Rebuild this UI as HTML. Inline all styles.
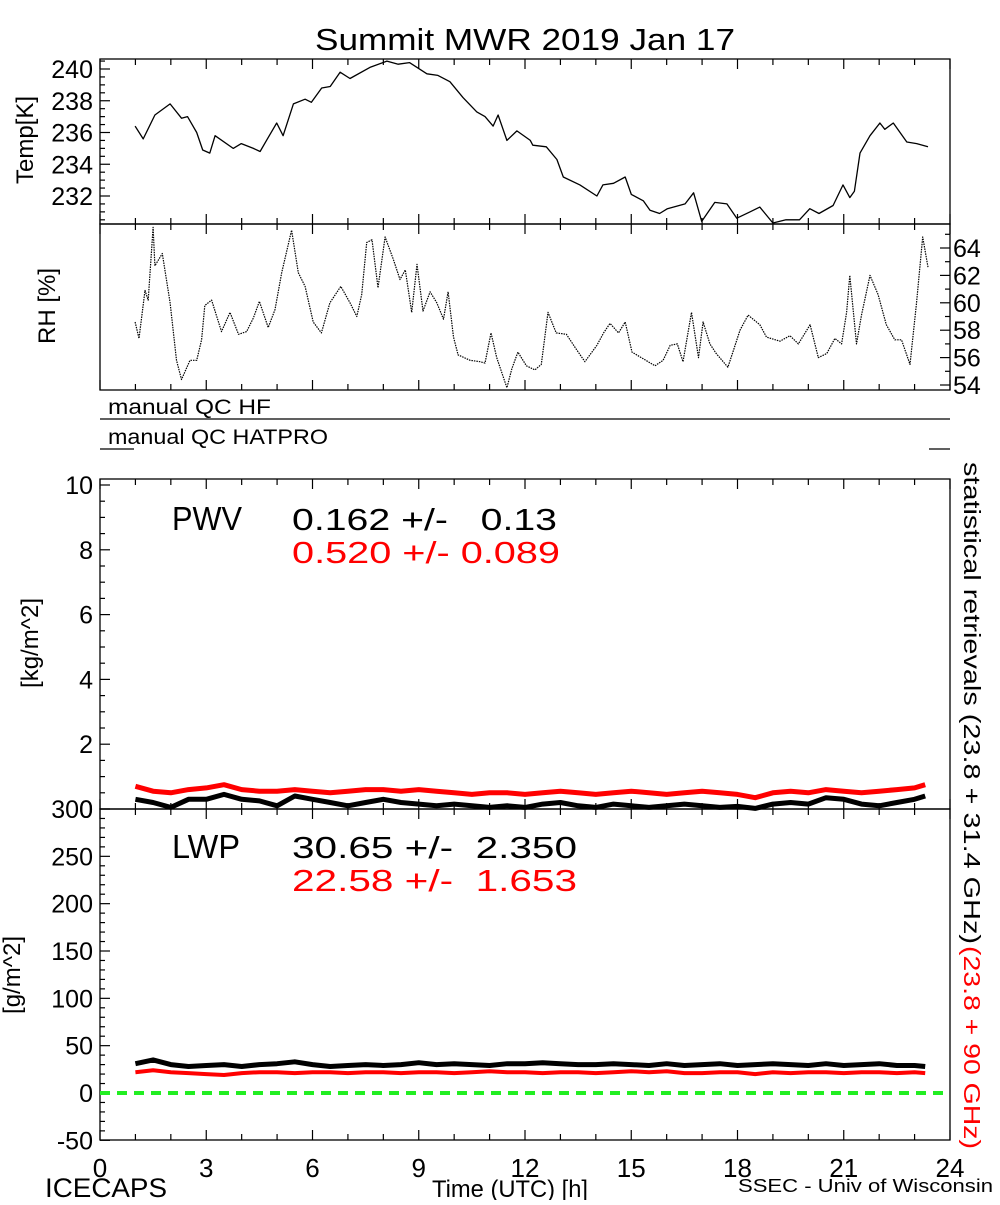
<!DOCTYPE html>
<html><head><meta charset="utf-8"><style>
html,body{margin:0;padding:0;background:#fff}
svg text{font-family:"Liberation Sans",sans-serif}
</style></head><body>
<svg id="chart" width="1000" height="1200" viewBox="0 0 1000 1200" xmlns="http://www.w3.org/2000/svg">
<rect width="1000" height="1200" fill="#fff"/>
<text x="315" y="50" font-size="31" textLength="420" lengthAdjust="spacingAndGlyphs">Summit MWR 2019 Jan 17</text>
<text transform="translate(33,140) rotate(-90)" font-size="24" text-anchor="middle">Temp[K]</text>
<text transform="translate(55,306) rotate(-90)" font-size="24" text-anchor="middle">RH [%]</text>
<text transform="translate(38,643) rotate(-90)" font-size="24" text-anchor="middle">[kg/m^2]</text>
<text transform="translate(20,975) rotate(-90)" font-size="24" text-anchor="middle">[g/m^2]</text>
<text x="108" y="414" font-size="21" textLength="163" lengthAdjust="spacingAndGlyphs">manual QC HF</text>
<line x1="100" y1="419" x2="950" y2="419" stroke="#000" stroke-width="1.2"/>
<text x="108" y="444" font-size="21" textLength="220" lengthAdjust="spacingAndGlyphs">manual QC HATPRO</text>
<line x1="100" y1="449" x2="134" y2="449" stroke="#000" stroke-width="1.2"/>
<line x1="929" y1="449" x2="950" y2="449" stroke="#000" stroke-width="1.2"/>
<text x="172" y="530" font-size="33" textLength="70" lengthAdjust="spacingAndGlyphs">PWV</text>
<text x="292" y="530" font-size="31" textLength="265" lengthAdjust="spacingAndGlyphs" xml:space="preserve">0.162 +/-   0.13</text>
<text x="292" y="563" font-size="31" fill="#ff0000" textLength="268" lengthAdjust="spacingAndGlyphs" xml:space="preserve">0.520 +/- 0.089</text>
<text x="172" y="858" font-size="33" textLength="68" lengthAdjust="spacingAndGlyphs">LWP</text>
<text x="292" y="858" font-size="31" textLength="285" lengthAdjust="spacingAndGlyphs" xml:space="preserve">30.65 +/-  2.350</text>
<text x="292" y="891" font-size="31" fill="#ff0000" textLength="285" lengthAdjust="spacingAndGlyphs" xml:space="preserve">22.58 +/-  1.653</text>
<text transform="translate(964,462) rotate(90)" font-size="23" textLength="482" lengthAdjust="spacingAndGlyphs">statistical retrievals (23.8 + 31.4 GHz)</text>
<text transform="translate(964,946) rotate(90)" font-size="23" fill="#ff0000" textLength="203" lengthAdjust="spacingAndGlyphs">(23.8 + 90 GHz)</text>
<text x="45" y="1197" font-size="27" textLength="122" lengthAdjust="spacingAndGlyphs">ICECAPS</text>
<text x="432" y="1197" font-size="24" textLength="156" lengthAdjust="spacingAndGlyphs">Time (UTC) [h]</text>
<text x="738" y="1192" font-size="18" textLength="255" lengthAdjust="spacingAndGlyphs">SSEC - Univ of Wisconsin</text>
<g id="marks"></g>
</svg>
<script>
const tempHours=[0.99,1.22,1.55,1.98,2.3,2.47,2.73,2.9,3.1,3.25,3.76,3.99,4.33,4.52,4.7,4.99,5.17,5.46,5.79,5.97,6.26,6.5,6.78,7.06,7.62,8.1,8.42,8.74,9.23,9.54,9.88,10.25,10.64,10.87,11.1,11.24,11.49,11.77,12.15,12.22,12.6,12.9,13.08,13.55,14.03,14.2,14.5,14.83,15.0,15.34,15.53,15.8,16.02,16.52,16.76,16.99,17.36,17.7,17.98,18.35,18.63,19.0,19.37,19.75,20.04,20.3,20.7,20.98,21.17,21.3,21.46,21.74,22.02,22.16,22.4,22.78,23.06,23.38];
const tempValues=[236.4,235.6,237.1,237.8,236.9,237.0,236.0,234.9,234.7,235.8,235.0,235.3,235.0,234.8,235.5,236.6,235.8,237.8,238.1,237.9,238.8,238.9,239.8,239.4,240.1,240.5,240.3,240.4,239.7,239.6,239.2,238.2,237.3,237.0,236.4,237.1,235.5,236.1,235.5,235.2,235.1,234.3,233.2,232.7,232.0,232.7,232.8,233.2,232.1,231.7,231.1,230.9,231.2,231.5,232.2,230.4,231.6,231.5,230.6,231.0,231.3,230.3,230.5,230.5,231.2,230.9,231.4,232.7,231.9,232.3,234.7,235.8,236.6,236.2,236.6,235.4,235.3,235.1];
const rhHours=[0.99,1.1,1.27,1.36,1.5,1.55,1.76,1.98,2.16,2.3,2.54,2.73,2.87,2.96,3.15,3.43,3.67,3.91,4.14,4.33,4.5,4.75,4.94,5.13,5.41,5.6,5.79,6.02,6.25,6.49,6.8,7.06,7.25,7.39,7.53,7.68,7.85,8.05,8.28,8.47,8.62,8.8,8.95,9.12,9.32,9.51,9.7,9.83,9.98,10.11,10.45,10.73,10.87,11.04,11.2,11.49,11.63,11.8,12.04,12.28,12.46,12.65,12.88,13.17,13.45,13.69,14.03,14.22,14.4,14.64,14.83,15.02,15.35,15.67,15.9,16.1,16.3,16.46,16.7,16.9,17.03,17.22,17.4,17.73,17.88,18.07,18.3,18.63,18.82,19.2,19.48,19.72,20.05,20.28,20.52,20.75,20.94,21.08,21.17,21.36,21.5,21.74,21.97,22.2,22.44,22.63,22.87,23.05,23.23,23.38];
const rhValues=[58.6,57.4,60.9,60.2,65.5,62.7,63.6,60.0,55.8,54.4,55.8,55.8,57.3,59.8,60.2,57.9,59.3,57.7,57.9,58.9,60.1,58.2,59.5,62.2,65.3,62.2,61.2,58.6,57.8,60.0,61.2,60.0,59.0,60.6,64.4,64.6,61.1,64.8,63.2,61.7,62.4,59.3,62.8,59.4,60.8,60.0,58.8,60.8,57.5,56.2,55.8,55.7,55.6,57.8,56.0,53.8,55.2,56.4,55.4,55.1,55.5,59.3,57.8,57.7,56.6,55.7,56.9,57.8,58.5,57.8,58.6,56.4,55.9,55.4,55.8,56.9,57.0,55.7,59.3,56.0,58.6,57.0,56.3,55.3,56.5,58.0,59.1,58.4,57.5,57.2,57.6,57.0,58.4,56.0,56.3,57.4,57.0,59.3,62.0,57.0,59.1,62.0,60.6,58.4,57.3,57.3,55.5,59.9,64.8,62.6];
const retHours=[1,1.5,2,2.5,3,3.5,4,4.5,5,5.5,6,6.5,7,7.5,8,8.5,9,9.5,10,10.5,11,11.5,12,12.5,13,13.5,14,14.5,15,15.5,16,16.5,17,17.5,18,18.5,19,19.5,20,20.5,21,21.5,22,22.5,23,23.3];
const pwvBlack=[0.3,0.2,0.05,0.3,0.3,0.45,0.3,0.25,0.1,0.4,0.3,0.2,0.1,0.2,0.3,0.2,0.15,0.1,0.15,0.1,0.05,0.1,0.05,0.15,0.2,0.1,0.05,0.15,0.1,0.05,0.1,0.15,0.1,0.05,0.08,0.02,0.15,0.2,0.15,0.35,0.3,0.15,0.1,0.2,0.3,0.4];
const pwvRed=[0.7,0.55,0.5,0.6,0.65,0.75,0.6,0.55,0.55,0.6,0.55,0.5,0.55,0.6,0.6,0.55,0.6,0.55,0.5,0.45,0.5,0.5,0.45,0.5,0.55,0.5,0.45,0.5,0.55,0.5,0.45,0.5,0.55,0.5,0.45,0.35,0.5,0.55,0.5,0.6,0.55,0.5,0.55,0.6,0.65,0.75];
const lwpBlack=[31,35,30,28,29,30,28,30,31,33,30,28,29,30,29,30,32,30,31,30,29,31,31,32,31,30,30,31,30,29,31,29,30,31,29,30,31,30,29,31,29,30,31,29,29,28];
const lwpRed=[22,24,22,21,20,19,21,22,22,21,22,22,21,22,22,21,22,22,21,22,23,22,22,21,22,22,21,22,23,22,23,21,21,22,22,20,22,21,22,22,21,22,22,21,22,21];
const xTickLabels=["0","3","6","9","12","15","18","21","24"];
const tempTickLabels=["232","234","236","238","240"];
const rhTickLabels=["54","56","58","60","62","64"];
const pwvTickLabels=["0","2","4","6","8","10"];
const lwpTickLabels=["-50","0","50","100","150","200","250","300"];

const NS="http://www.w3.org/2000/svg";
const g=document.getElementById("marks");
const X0=100,X1=950;
const xs=h=>X0+(X1-X0)*h/24;
function lin(d0,d1,p0,p1){return v=>p0+(v-d0)*(p1-p0)/(d1-d0);}
const panels={
 temp:{top:59,bot:224,y:lin(232,240,196,69)},
 rh:{top:224,bot:390,y:lin(54,64,385,248)},
 pwv:{top:479,bot:809,y:lin(0,10,809,485)},
 lwp:{top:809,bot:1140,y:lin(0,300,1093,809)}
};
function mk(tag,attrs){const e=document.createElementNS(NS,tag);for(const k in attrs)e.setAttribute(k,attrs[k]);g.appendChild(e);return e;}

for(const key in panels){
 const p=panels[key];
 const r=mk("rect",{x:X0,y:p.top,width:X1-X0,height:p.bot-p.top,fill:"none",stroke:"#000","stroke-width":1.3});
 
 
 for(let h=0;h<=24;h++){
  const L=(h%3===0)?10:6;const x=xs(h);
  const t1=mk("line",{x1:x,y1:p.bot,x2:x,y2:p.bot-L,stroke:"#000","stroke-width":1.2});
  
  
  const t2=mk("line",{x1:x,y1:p.top,x2:x,y2:p.top+L,stroke:"#000","stroke-width":1.2});
  
  
 }
}
xTickLabels.forEach(s=>{
 const t=mk("text",{x:xs(+s),y:1177,"font-size":26,"text-anchor":"middle"});t.textContent=s;
 
 
});
function yTicks(key,labels,minorStep,minV,maxV,side){
 const p=panels[key];
 for(let v=minV;v<=maxV+1e-9;v+=minorStep){
  const y=p.y(v);if(y<p.top-0.5||y>p.bot+0.5)continue;
  const isMajor=labels.some(s=>Math.abs(+s-v)<1e-6);const L=isMajor?10:5;
  const x=side==="left"?X0:X1;const d=side==="left"?L:-L;
  const t=mk("line",{x1:x,y1:y,x2:x+d,y2:y,stroke:"#000","stroke-width":1.2});
  
  
 }
 labels.forEach(s=>{
  const y=panels[key].y(+s);
  const t=mk("text",{x:side==="left"?X0-7:X1+3,y:y+9,"font-size":25,"text-anchor":side==="left"?"end":"start"});
  t.textContent=s;
  
  
 });
}
yTicks("temp",tempTickLabels,0.5,230.5,240.5,"left");
yTicks("rh",rhTickLabels,1,54,65,"right");
yTicks("pwv",pwvTickLabels,0.5,0,10,"left");
yTicks("lwp",lwpTickLabels,10,-50,300,"left");

function series(key,hrs,vals,color,w,name,dash){
 const p=panels[key];
 const pts=hrs.map((h,i)=>xs(h).toFixed(1)+","+p.y(vals[i]).toFixed(1)).join(" ");
 const a={points:pts,fill:"none",stroke:color,"stroke-width":w,"stroke-linejoin":"round"};
 if(dash)a["stroke-dasharray"]=dash;
 const e=mk("polyline",a);
 
 
}
series("temp",tempHours,tempValues,"#000",1.3,"temp-series");
series("rh",rhHours,rhValues,"#000",1.2,"rh-series","1.5 1");
series("pwv",retHours,pwvRed,"#ff0000",5,"pwv-red-series");
series("pwv",retHours,pwvBlack,"#000",5,"pwv-black-series");
series("lwp",retHours,lwpBlack,"#000",5,"lwp-black-series");
series("lwp",retHours,lwpRed,"#ff0000",4,"lwp-red-series");
const z=mk("line",{x1:X0,y1:panels.lwp.y(0),x2:X1,y2:panels.lwp.y(0),stroke:"#22ee22","stroke-width":4,"stroke-dasharray":"10 7"});


</script>
</body></html>
